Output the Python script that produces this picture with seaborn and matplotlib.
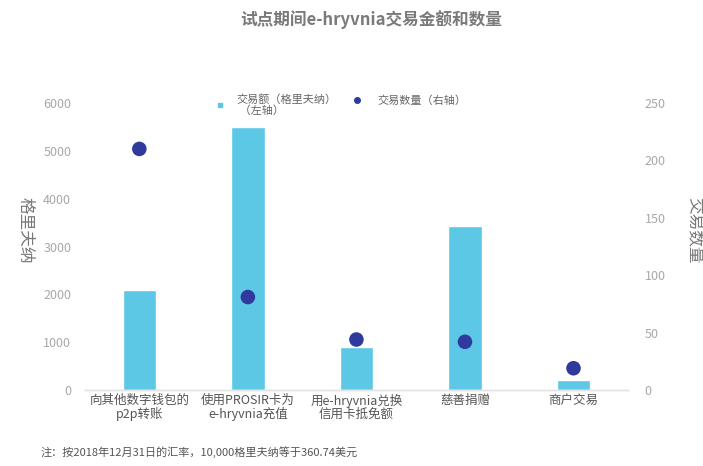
import matplotlib
matplotlib.use("Agg")
import matplotlib.pyplot as plt
import seaborn as sns
import pandas as pd
from matplotlib.lines import Line2D

categories = ["向其他数字钱包的\np2p转账", "使用PROSIR卡为\ne-hryvnia充值",
              "用e-hryvnia兑换\n信用卡抵免额", "慈善捐赠", "商户交易"]
amount_uah = [2100, 5490, 900, 3430, 200]
tx_count = [210, 81, 44, 42, 19]
left_ticks = [0, 1000, 2000, 3000, 4000, 5000, 6000]
right_ticks = [0, 50, 100, 150, 200, 250]

sns.set_theme(style="white")
plt.rcParams["font.family"] = ["Noto Sans CJK SC", "DejaVu Sans"]

bar_color = "#5DC8E6"
dot_color = "#2F3A9C"
tick_color = "#A8A8A8"
label_color = "#777777"

df = pd.DataFrame({"cat": categories, "amount": amount_uah, "count": tx_count})

fig = plt.figure(figsize=(7.03, 4.66), dpi=100)
ax = fig.add_axes([0.121, 0.163, 0.772, 0.616])

sns.barplot(data=df, x="cat", y="amount", color=bar_color, width=0.31,
            saturation=1, ax=ax)
ax.set_ylim(0, 6000)
ax.set_yticks(left_ticks)
ax.set_xlim(-0.5, 4.5)
ax.set_xlabel("")
ax.set_ylabel("")
ax.tick_params(axis="y", colors=tick_color, labelsize=9, length=0, pad=10)
ax.tick_params(axis="x", colors="#555555", labelsize=9, length=0, pad=3)
for lbl in ax.get_xticklabels():
    lbl.set_linespacing(1.0)

ax2 = ax.twinx()
sns.scatterplot(data=df, x="cat", y="count", color=dot_color, s=110,
                edgecolor="none", ax=ax2, zorder=5)
ax2.set_ylim(0, 250)
ax2.set_yticks(right_ticks)
ax2.set_ylabel("")
ax2.tick_params(axis="y", colors=tick_color, labelsize=9, length=0, pad=12)

for a in (ax, ax2):
    for side in ("top", "left", "right"):
        a.spines[side].set_visible(False)
    a.spines["bottom"].set_color("#E2E2E2")
    a.spines["bottom"].set_linewidth(1.0)
    a.grid(False)

# axis titles, reading top to bottom on both sides
fig.text(0.036, 0.506, "格里夫纳", rotation=270, ha="center", va="center",
         fontsize=12, color=label_color)
fig.text(0.986, 0.506, "交易数量", rotation=270, ha="center", va="center",
         fontsize=12, color=label_color)

legend_kw = dict(loc="center left", frameon=False, fontsize=8,
                 labelcolor="#666666", handlelength=1.0, borderpad=0,
                 borderaxespad=0)
leg1 = fig.legend([Line2D([], [], marker="s", linestyle="none",
                          color=bar_color, markersize=3.5)],
                  ["交易额（格里夫纳）\n （左轴）"],
                  bbox_to_anchor=(0.305, 0.774), handletextpad=1.0, **legend_kw)
for t in leg1.get_texts():
    t.set_linespacing(1.1)
fig.legend([Line2D([], [], marker="o", linestyle="none",
                   color=dot_color, markersize=4)],
           ["交易数量（右轴）"],
           bbox_to_anchor=(0.500, 0.785), handletextpad=1.3, **legend_kw)

fig.text(0.528, 0.957, "试点期间e-hryvnia交易金额和数量", ha="center", va="center",
         fontsize=12, fontweight="bold", color="#7A7A7A")
fig.text(0.057, 0.03, "注：按2018年12月31日的汇率，10,000格里夫纳等于360.74美元",
         ha="left", va="center", fontsize=8, color="#555555")

fig.savefig("out.png", dpi=100, facecolor="white")
